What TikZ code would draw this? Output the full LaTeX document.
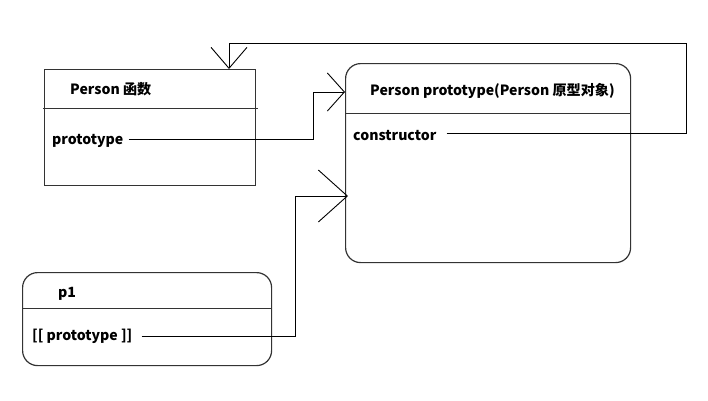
\documentclass[tikz,border=0pt]{standalone}
\usepackage{fontspec}
\setmainfont{Noto Sans CJK SC}
\usetikzlibrary{arrows.meta}
\begin{document}
\begin{tikzpicture}[x=1pt,y=-1pt,
  box/.style={draw=black!80, line width=1.2pt, inner sep=0pt, anchor=north west},
  sep/.style={draw=black!80, line width=1pt},
  lbl/.style={inner sep=0pt, anchor=west, yshift=-1.5pt, font=\bfseries\fontsize{14.1}{16}\selectfont},
  link/.style={draw=black, line width=0.9pt},
]
\useasboundingbox (0,0) rectangle (708,400);

% Person function object
\node[box, minimum width=211pt, minimum height=116pt] (fn) at (44,69) {};
\draw[sep] (43,108) -- (258,108);
\node[lbl] (fntitle) at (70,88) {Person 函数};
\node[lbl] (fnproto) at (52,139) {prototype};

% Person.prototype object
\node[box, rounded corners=15pt, minimum width=285pt, minimum height=199pt] (pr) at (345,63) {};
\draw[sep] (345,113) -- (630,113);
\node[lbl] (prtitle) at (370,89) {Person prototype(Person 原型对象)};
\node[lbl] (prctor) at (353,134) {constructor};

% instance p1
\node[box, rounded corners=15pt, minimum width=249pt, minimum height=93pt] (p1) at (22,272) {};
\draw[sep] (22,308) -- (271,308);
\node[lbl] (p1title) at (58,292) {p1};
\node[lbl] (p1proto) at (32,335) {[[ prototype ]]};

% bend points of the connectors
\coordinate (a1) at (313,139);
\coordinate (a2) at (313,92);
\coordinate (c1) at (686,133);
\coordinate (c2) at (686,43);
\coordinate (c3) at (229,43);
\coordinate (d1) at (295,336);
\coordinate (d2) at (295,196);

% prototype -> Person.prototype
\draw[link, -{Straight Barb[length=17pt, width=38pt, line width=0.9pt]}]
  ([xshift=5pt]fnproto.east |- a1) -- (a1) -- (a2) -- (pr.west |- a2);
% constructor -> Person
\draw[link, -{Straight Barb[length=21pt, width=36pt, line width=0.9pt]}]
  ([xshift=10pt]prctor.east |- c1) -- (c1) -- (c2) -- (c3) -- (fn.north -| c3);
% [[prototype]] -> Person.prototype
\draw[link, -{Straight Barb[length=29pt, width=52pt, line width=0.9pt]}]
  ([xshift=9pt]p1proto.east |- d1) -- (d1) -- (d2) -- ([xshift=3pt]pr.west |- d2);
\end{tikzpicture}
\end{document}
